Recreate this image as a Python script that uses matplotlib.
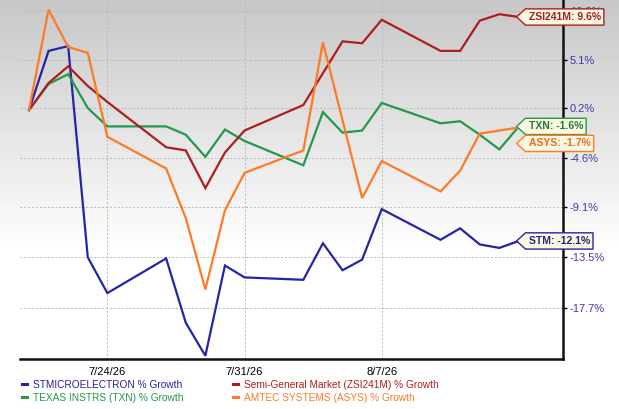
import numpy as np
import pandas as pd
import matplotlib

matplotlib.use("Agg")
import matplotlib.pyplot as plt
from matplotlib.path import Path

plt.rcParams["font.family"] = ["Liberation Sans", "DejaVu Sans"]

# Data (% growth since 7/20/26)
dates = pd.to_datetime(
    [
        "2026-07-20", "2026-07-21", "2026-07-22", "2026-07-23", "2026-07-24",
        "2026-07-27", "2026-07-28", "2026-07-29", "2026-07-30", "2026-07-31",
        "2026-08-03", "2026-08-04", "2026-08-05", "2026-08-06", "2026-08-07",
        "2026-08-10", "2026-08-11", "2026-08-12", "2026-08-13", "2026-08-14",
    ]
)
stm = [0, 6.0, 6.5, -13.5, -16.5, -13.6, -18.9, -21.5, -14.2, -15.2,
       -15.4, -12.3, -14.6, -13.7, -9.3, -12.0, -11.0, -12.4, -12.7, -12.1]
zsi = [0, 2.7, 4.4, 2.4, 0.8, -3.6, -3.9, -7.4, -4.1, -2.0,
       0.5, 3.7, 7.0, 6.8, 9.3, 6.0, 6.0, 9.2, 9.9, 9.6]
txn = [0, 2.6, 3.6, 0.2, -1.6, -1.6, -2.4, -4.5, -1.9, -3.0,
       -5.3, -0.2, -2.2, -2.0, 0.7, -1.3, -1.1, -2.4, -3.8, -1.6]
asys = [0, 10.4, 6.4, 5.8, -2.6, -5.6, -10.1, -16.2, -9.4, -6.0,
        -3.9, 6.9, -1.0, -8.3, -4.9, -7.7, -5.8, -2.3, -2.0, -1.7]

y_ticks = [10.2, 5.1, 0.2, -4.6, -9.1, -13.5, -17.7]
x_ticks = pd.to_datetime(["2026-07-24", "2026-07-31", "2026-08-07"])
x_tick_labels = ["7/24/26", "7/31/26", "8/7/26"]

series = [
    ("STMICROELECTRON % Growth", stm, "#2424a6", "#24247e", "STM: -12.1%", 0),
    ("TEXAS INSTRS (TXN) % Growth", txn, "#23994b", "#1f7a3f", "TXN: -1.6%", 0),
    ("Semi-General Market (ZSI241M) % Growth", zsi, "#ad1f1f", "#9e2020", "ZSI241M: 9.6%", 0),
    ("AMTEC SYSTEMS (ASYS) % Growth", asys, "#ff7a26", "#f06a1a", "ASYS: -1.7%", -11.5),
]

W, H = 619, 409
fig = plt.figure(figsize=(W / 100, H / 100), dpi=100)

# grey-to-white gradient background over the whole figure
bg = fig.add_axes([0, 0, 1, 1], zorder=-10)
yy = np.linspace(0, 1, H)
shade = np.clip(0.78 + 0.22 * yy / 0.62, 0, 1)
grad = np.repeat(shade[:, None], 2, axis=1)
bg.imshow(grad, cmap="gray", vmin=0, vmax=1, aspect="auto", extent=[0, 1, 1, 0])
bg.set_axis_off()

ax = fig.add_axes([20 / W, (H - 359) / H, 543 / W, 359 / H])
ax.patch.set_alpha(0)
ax.set_yscale("function", functions=(lambda g: np.log1p(np.asarray(g) / 100),
                                      lambda v: np.expm1(v) * 100))

for label, vals, col, tcol, tag, dy in series:
    ax.plot(dates, vals, color=col, lw=1.6, label=label, solid_joinstyle="miter")


def pointer_box(x0, y0, width, height, mutation_scale):
    pad = 0.3 * mutation_scale
    xa, xb = x0 - pad, x0 + width + pad
    ya, yb = y0 - pad, y0 + height + pad
    tip = (yb - ya) * 0.55
    verts = [(xa - tip, (ya + yb) / 2), (xa, yb), (xb, yb), (xb, ya), (xa, ya),
             (xa - tip, (ya + yb) / 2)]
    codes = [Path.MOVETO] + [Path.LINETO] * 4 + [Path.CLOSEPOLY]
    return Path(verts, codes)


for label, vals, col, tcol, tag, dy in series:
    ax.annotate(
        tag,
        xy=(dates[-1], vals[-1]),
        xytext=(7, dy),
        textcoords="offset points",
        ha="left",
        va="center",
        fontsize=7.5,
        fontweight="bold",
        color=tcol,
        bbox=dict(boxstyle=pointer_box, fc="#fbf8e2", ec=col, lw=1.0),
        annotation_clip=False,
        zorder=10,
    )

ax.set_xlim(dates[0] - pd.Timedelta(hours=11), dates[-1] + pd.Timedelta(hours=54))
ax.set_ylim(-21.75, 11.45)

ax.set_xticks(x_ticks)
ax.set_xticklabels(x_tick_labels, fontsize=8)
ax.set_yticks(y_ticks)
ax.set_yticklabels([f"{v:.1f}%" for v in y_ticks], fontsize=8, color="#3b3bb0")
ax.minorticks_off()
ax.yaxis.tick_right()
ax.tick_params(axis="y", length=3, width=1, direction="out", pad=2)
ax.tick_params(axis="x", length=0, pad=6)

ax.grid(True, color="#b8b8b8", lw=0.7, linestyle=(0, (2, 2)))
for side in ["top", "left"]:
    ax.spines[side].set_visible(False)
for side in ["bottom", "right"]:
    ax.spines[side].set_linewidth(1.8)
    ax.spines[side].set_color("#111111")

handles, labels = ax.get_legend_handles_labels()
leg = fig.legend(
    handles,
    labels,
    ncol=2,
    loc="upper left",
    bbox_to_anchor=(22 / W, 1 - 380 / H),
    frameon=False,
    fontsize=7.3,
    handlelength=0.5,
    handletextpad=0.6,
    columnspacing=4.9,
    labelspacing=0.3,
    labelcolor="linecolor",
    borderaxespad=0,
    borderpad=0,
)
for line in leg.get_lines():
    line.set_linewidth(2.2)

fig.savefig("out.png", dpi=100)
